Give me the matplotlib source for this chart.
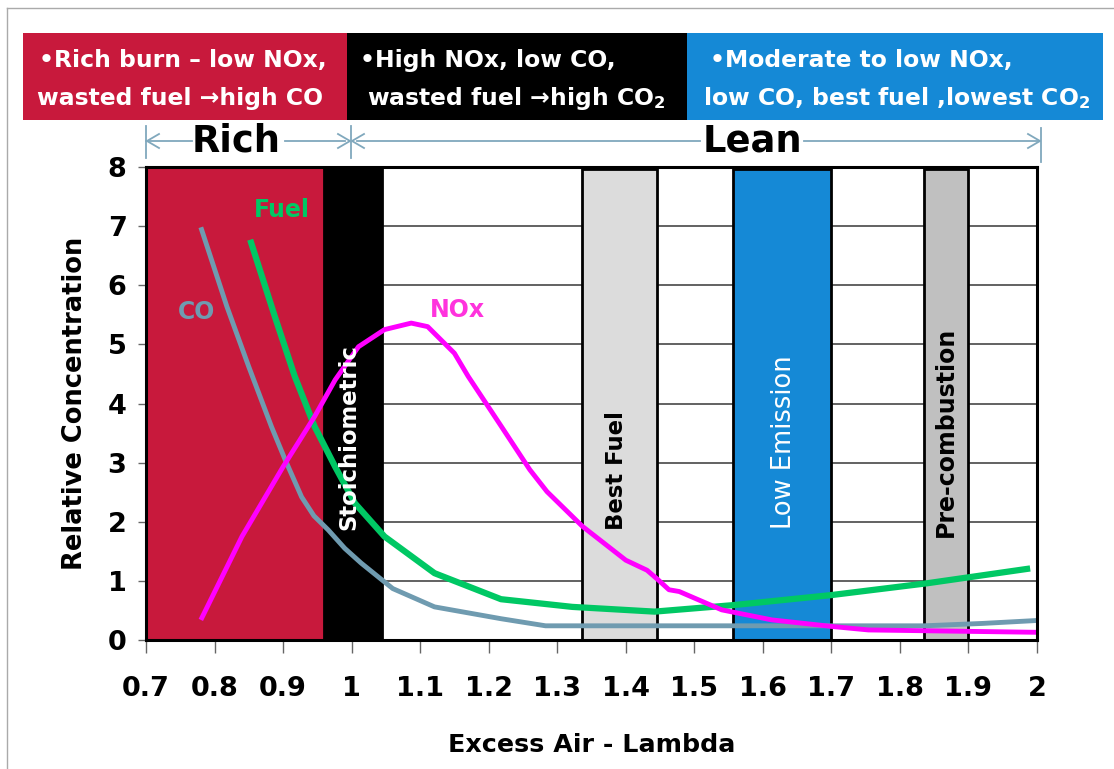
import matplotlib
matplotlib.use("Agg")
import matplotlib.pyplot as plt
from matplotlib.patches import Rectangle
from matplotlib.lines import Line2D

# ---------------- data ----------------
co_x = [0.780, 0.818, 0.850, 0.883, 0.903, 0.927, 0.945, 0.966, 0.990, 1.014, 1.060, 1.121, 1.218, 1.283, 1.50, 1.70, 1.835, 1.92, 2.0]
co_y = [6.98, 5.64, 4.62, 3.61, 3.05, 2.42, 2.10, 1.86, 1.55, 1.30, 0.87, 0.56, 0.36, 0.24, 0.24, 0.24, 0.24, 0.28, 0.33]

fuel_x = [0.852, 0.888, 0.917, 0.946, 0.976, 1.005, 1.048, 1.121, 1.218, 1.322, 1.442, 1.557, 1.70, 1.84, 1.99]
fuel_y = [6.77, 5.47, 4.46, 3.61, 2.93, 2.31, 1.75, 1.13, 0.69, 0.56, 0.48, 0.59, 0.76, 0.96, 1.21]

nox_x = [0.78, 0.84, 0.90, 0.946, 0.976, 1.01, 1.048, 1.087, 1.111, 1.15, 1.17, 1.218, 1.26, 1.285,
         1.337, 1.40, 1.431, 1.447, 1.463, 1.478, 1.54, 1.613, 1.70, 1.754, 2.0]
nox_y = [0.34, 1.75, 2.93, 3.78, 4.40, 4.96, 5.25, 5.36, 5.30, 4.85, 4.46, 3.62, 2.88, 2.51,
         1.92, 1.35, 1.18, 1.02, 0.85, 0.82, 0.51, 0.34, 0.23, 0.17, 0.13]

# zone bands (lambda start, lambda end)
zone_names = ["Rich", "Stoichiometric", "Best Fuel", "Low Emission", "Pre-combustion"]
zone_start = [0.70, 0.96, 1.336, 1.557, 1.835]
zone_end = [0.96, 1.045, 1.445, 1.700, 1.900]

x_ticks = [0.7, 0.8, 0.9, 1.0, 1.1, 1.2, 1.3, 1.4, 1.5, 1.6, 1.7, 1.8, 1.9, 2.0]
x_tick_labels = ["0.7", "0.8", "0.9", "1", "1.1", "1.2", "1.3", "1.4", "1.5", "1.6", "1.7", "1.8", "1.9", "2"]
y_ticks = [0, 1, 2, 3, 4, 5, 6, 7, 8]

header_texts = [
    ["\u2022Rich burn \u2013 low NOx,", "wasted fuel \u2192high CO"],
    ["\u2022High NOx, low CO,", "wasted fuel \u2192high CO$\\mathbf{_2}$"],
    ["\u2022Moderate to low NOx,", "low CO, best fuel ,lowest CO$\\mathbf{_2}$"],
]

# ---------------- styling ----------------
RED = "#c8193c"
BLUE = "#1589d6"
LGREY = "#dcdcdc"
MGREY = "#c0c0c0"
CO_C = "#6f9bb0"
FUEL_C = "#00c864"
NOX_C = "#ff00ff"
ARROW_C = "#80a8bd"

plt.rcParams['font.family'] = ['DejaVu Sans']
plt.rcParams['mathtext.fontset'] = 'dejavusans'
W, H = 1114, 769
fig = plt.figure(figsize=(W / 100, H / 100), dpi=100)
fig.patch.set_facecolor("white")

def fx(px):
    return px / W

def fy(py):
    return 1 - py / H

ax = fig.add_axes([fx(146), fy(640), fx(1037) - fx(146), fy(167) - fy(640)])
ax.set_xlim(0.7, 2.0)
ax.set_ylim(0, 8)

# grid
for yv in y_ticks[1:-1]:
    ax.axhline(yv, color="#555555", lw=1.3, zorder=1)

# bands
zone_colors = [RED, "black", LGREY, BLUE, MGREY]
zone_edges = ["none", "black", "black", "black", "black"]
for s, e, c, ec in zip(zone_start, zone_end, zone_colors, zone_edges):
    ax.add_patch(Rectangle((s, 0), e - s, 7.97, facecolor=c, edgecolor=ec, lw=2, zorder=2))

# curves
ax.plot(co_x, co_y, color=CO_C, lw=3.5, zorder=4, solid_capstyle="butt", solid_joinstyle="round")
ax.plot(fuel_x, fuel_y, color=FUEL_C, lw=4.5, zorder=5, solid_capstyle="butt", solid_joinstyle="round")
ax.plot(nox_x, nox_y, color=NOX_C, lw=3.5, zorder=6, solid_capstyle="butt", solid_joinstyle="round")

# curve labels
ax.text(0.774, 5.55, "CO", color=CO_C, fontsize=17, fontweight="bold", ha="center", va="center", zorder=7)
ax.text(0.898, 7.28, "Fuel", color=FUEL_C, fontsize=17, fontweight="bold", ha="center", va="center", zorder=7)
ax.text(1.154, 5.58, "NOx", color="#ff33dd", fontsize=17, fontweight="bold", ha="center", va="center", zorder=7)

# band labels
ax.text(0.996, 3.43, "Stoichiometric", color="white", fontsize=16.4, fontweight="bold", rotation=90,
        ha="center", va="center", zorder=7)
ax.text(1.386, 2.87, "Best Fuel", color="black", fontsize=16.4, fontweight="bold", rotation=90,
        ha="center", va="center", zorder=7)
ax.text(1.631, 3.35, "Low Emission", color="white", fontsize=18.5, rotation=90,
        ha="center", va="center", zorder=7)
ax.text(1.867, 3.52, "Pre-combustion", color="black", fontsize=17, fontweight="bold", rotation=90,
        ha="center", va="center", zorder=7)

# axes styling
for sp in ax.spines.values():
    sp.set_color("black")
    sp.set_linewidth(2.2)
    sp.set_zorder(8)
ax.set_xticks(x_ticks)
ax.set_xticklabels(x_tick_labels)
ax.set_yticks(y_ticks)
ax.tick_params(axis="x", direction="out", length=9, width=1, color="#666666", pad=17, labelsize=19.5)
ax.tick_params(axis="y", direction="out", length=6, width=1, color="#666666", pad=8, labelsize=19.5)
for lab in ax.get_xticklabels() + ax.get_yticklabels():
    lab.set_fontweight("bold")
ax.set_xlabel("Excess Air - Lambda", fontsize=18.3, fontweight="bold", labelpad=22)
ax.set_ylabel("Relative Concentration", fontsize=18.5, fontweight="bold", labelpad=14)

# header boxes
box_x = [23, 347, 687, 1103]
box_colors = [RED, "black", BLUE]
for i in range(3):
    fig.patches.append(Rectangle((fx(box_x[i]), fy(120)), fx(box_x[i + 1]) - fx(box_x[i]), fy(33) - fy(120),
                                 transform=fig.transFigure, facecolor=box_colors[i], edgecolor="none", zorder=1))
line_x = [[39, 37], [360, 367], [710, 703]]
line_base = [67, 105]
for i in range(3):
    for j in range(2):
        fig.text(fx(line_x[i][j]), fy(line_base[j]), header_texts[i][j], color="white", fontsize=16.9,
                 fontweight="bold", ha="left", va="baseline", zorder=3)

# Rich / Lean arrows
ay = 141
def hline(x0, x1, y):
    fig.add_artist(Line2D([fx(x0), fx(x1)], [fy(y), fy(y)], color=ARROW_C, lw=1.3, transform=fig.transFigure))
def vline(x, y0, y1):
    fig.add_artist(Line2D([fx(x), fx(x)], [fy(y0), fy(y1)], color=ARROW_C, lw=1.3, transform=fig.transFigure))
vline(146, 126, 158)
vline(351, 126, 158)
vline(1041, 128, 162)
hline(146, 192, ay)
hline(285, 345, ay)
hline(357, 700, ay)
hline(804, 1040, ay)
# arrow heads (open chevrons)
for (xt, d) in [(147, 1), (350, -1), (352, 1), (1040, -1)]:
    fig.add_artist(Line2D([fx(xt + d * 12), fx(xt), fx(xt + d * 12)], [fy(ay - 7), fy(ay), fy(ay + 7)],
                          color=ARROW_C, lw=1.3, transform=fig.transFigure))
fig.text(fx(236), fy(ay), "Rich", fontsize=26.5, fontweight="bold", ha="center", va="center")
fig.text(fx(752), fy(ay), "Lean", fontsize=26.5, fontweight="bold", ha="center", va="center")

# outer border (top and left)
fig.add_artist(Line2D([fx(7), 1], [fy(8), fy(8)], color="#aaaaaa", lw=1, transform=fig.transFigure))
fig.add_artist(Line2D([fx(7), fx(7)], [fy(8), 0], color="#aaaaaa", lw=1, transform=fig.transFigure))

fig.savefig("out.png", dpi=100)
